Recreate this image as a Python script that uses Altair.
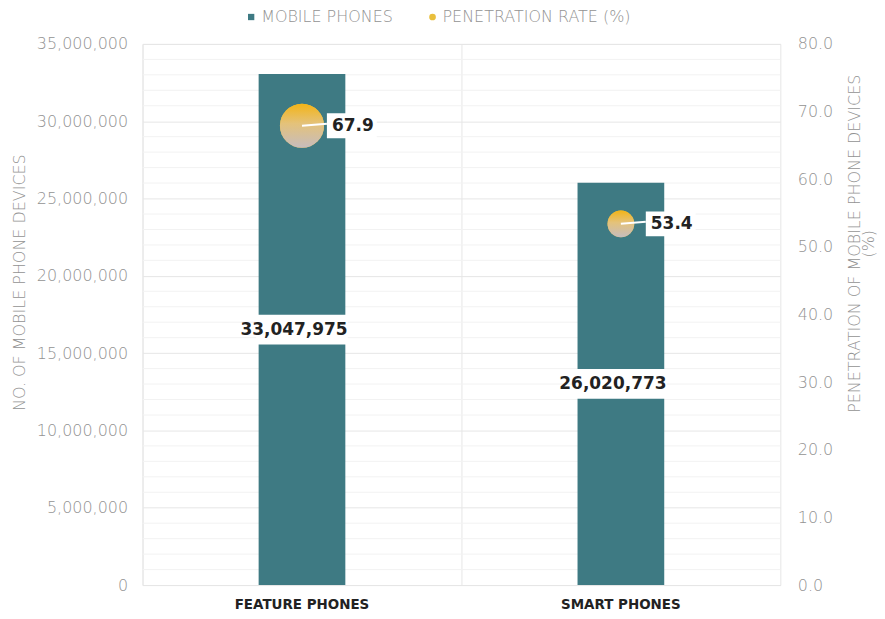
import altair as alt
import pandas as pd

categories = ["FEATURE PHONES", "SMART PHONES"]
devices = [33047975, 26020773]
penetration = [67.9, 53.4]
device_labels = ["33,047,975", "26,020,773"]
penetration_labels = ["67.9", "53.4"]
left_ticks = [0, 5000000, 10000000, 15000000, 20000000, 25000000, 30000000, 35000000]
right_ticks = [0, 10, 20, 30, 40, 50, 60, 70, 80]
minor_ticks = [v for v in range(1000000, 35000000, 1000000) if v % 5000000 != 0]

df = pd.DataFrame({
    "category": categories,
    "devices": devices,
    "penetration": penetration,
    "dlabel": device_labels,
    "plabel": penetration_labels,
    "series1": ["MOBILE PHONES"] * 2,
    "series2": ["PENETRATION RATE (%)"] * 2,
})
minor_df = pd.DataFrame({"v": minor_ticks})

FONT = "DejaVu Sans"
TEAL = "#3e7a83"
GREY = "#929292"

xenc = alt.X("category:N", sort=categories, title=None,
             scale=alt.Scale(paddingInner=0, paddingOuter=0),
             axis=alt.Axis(labelFont=FONT, labelFontWeight="bold", labelFontSize=13.5,
                           labelColor="#222222", labelPadding=13, ticks=False,
                           domain=False, grid=True, bandPosition=0,
                           gridColor="#e6e6e6", labelAngle=0))

yscale_left = alt.Scale(domain=[0, 35000000], nice=False)
yscale_right = alt.Scale(domain=[0, 80], nice=False)

base = alt.Chart(df)

minor = alt.Chart(minor_df).mark_rule(color="#f2f2f2", strokeWidth=1).encode(
    y=alt.Y("v:Q", scale=yscale_left)
)

bars = base.mark_bar(size=87, color=TEAL).encode(
    x=xenc,
    y=alt.Y("devices:Q", scale=yscale_left, title="NO. OF MOBILE PHONE DEVICES",
            axis=alt.Axis(values=left_ticks, format=",.0f", labelFont=FONT,
                          labelFontWeight=300, labelFontSize=16, labelColor=GREY,
                          labelPadding=15, ticks=False, domain=False,
                          gridColor="#e6e6e6", titleFont=FONT, titleFontWeight=300,
                          titleFontSize=16, titleColor=GREY, titlePadding=9,
                          titleY=239)),
    color=alt.Color("series1:N", title=None,
                    scale=alt.Scale(domain=["MOBILE PHONES"], range=[TEAL]),
                    legend=alt.Legend(orient="none", legendX=101, legendY=-35,
                                      symbolType="square",
                                      symbolSize=40, labelFont=FONT,
                                      labelFontSize=16, labelColor=GREY,
                                      labelFontWeight=300, labelOffset=2,
                                      labelLimit=400)),
)

mid = base.transform_calculate(half="datum.devices / 2")

band = mid.mark_tick(color="white", size=92, thickness=30, opacity=1).encode(
    x=alt.X("category:N", sort=categories),
    y=alt.Y("half:Q", scale=yscale_left),
)

dtext = mid.mark_text(font=FONT, fontWeight="bold", fontSize=17, color="#222222",
                      xOffset=-8).encode(
    x=alt.X("category:N", sort=categories),
    y=alt.Y("half:Q", scale=yscale_left),
    text="dlabel:N",
)

left = alt.layer(minor, bars, band, dtext)

pen_y = alt.Y("penetration:Q", scale=yscale_right,
              title=["PENETRATION OF MOBILE PHONE DEVICES", "(%)"],
              axis=alt.Axis(values=right_ticks, format=".1f", labelFont=FONT,
                            labelFontWeight=300, labelFontSize=16, labelColor=GREY,
                            labelPadding=17, ticks=False, domain=False, grid=False,
                            orient="right", titleFont=FONT, titleFontWeight=300,
                            titleFontSize=16, titleColor=GREY, titlePadding=16,
                            titleLineHeight=14, titleAngle=270, titleY=200))

size_enc = alt.Size("penetration:Q", legend=None,
                    scale=alt.Scale(domain=[min(penetration), max(penetration)],
                                    range=[720, 1960]))

pts_legend = base.mark_circle(opacity=1).encode(
    x=alt.X("category:N", sort=categories),
    y=pen_y,
    size=size_enc,
    fill=alt.Fill("series2:N", title=None,
                  scale=alt.Scale(domain=["PENETRATION RATE (%)"], range=["#e9bf3c"]),
                  legend=alt.Legend(orient="none", legendX=283, legendY=-35,
                                    symbolType="circle",
                                    symbolSize=45, labelFont=FONT,
                                    labelFontSize=16, labelColor=GREY,
                                    labelFontWeight=300, labelOffset=2,
                                    labelLimit=400)),
)

grad = alt.LinearGradient(gradient="linear",
                          stops=[alt.GradientStop(color="#f3b416", offset=0),
                                 alt.GradientStop(color="#e4c27a", offset=0.45),
                                 alt.GradientStop(color="#c6bcbe", offset=1)],
                          x1=0, x2=0, y1=0, y2=1)

pts = base.mark_circle(opacity=1, fill=grad).encode(
    x=alt.X("category:N", sort=categories),
    y=alt.Y("penetration:Q", scale=yscale_right),
    size=size_enc,
)

leader = base.mark_point(shape="M0,0L1,-0.08", stroke="white", strokeWidth=2,
                         filled=False, size=2500, opacity=1).encode(
    x=alt.X("category:N", sort=categories),
    y=alt.Y("penetration:Q", scale=yscale_right),
)

box = base.mark_point(shape="M-1,-0.5L1,-0.5L1,0.5L-1,0.5Z", filled=True,
                      fill="white", size=2500, opacity=1, xOffset=50).encode(
    x=alt.X("category:N", sort=categories),
    y=alt.Y("penetration:Q", scale=yscale_right),
)

ptext = base.mark_text(font=FONT, fontWeight="bold", fontSize=17, color="#222222",
                       xOffset=51).encode(
    x=alt.X("category:N", sort=categories),
    y=alt.Y("penetration:Q", scale=yscale_right),
    text="plabel:N",
)

right = alt.layer(pts_legend, pts, leader, box, ptext)

chart = alt.layer(left, right).resolve_scale(
    y="independent", color="independent", fill="independent"
).properties(
    width=640, height=543,
    padding={"left": 3, "top": 0, "right": 0, "bottom": 0}
).configure_view(
    stroke="#e6e6e6"
).configure_legend(
    direction="horizontal"
)

chart.save("out.html", embed_options={"renderer": "svg", "actions": False})
